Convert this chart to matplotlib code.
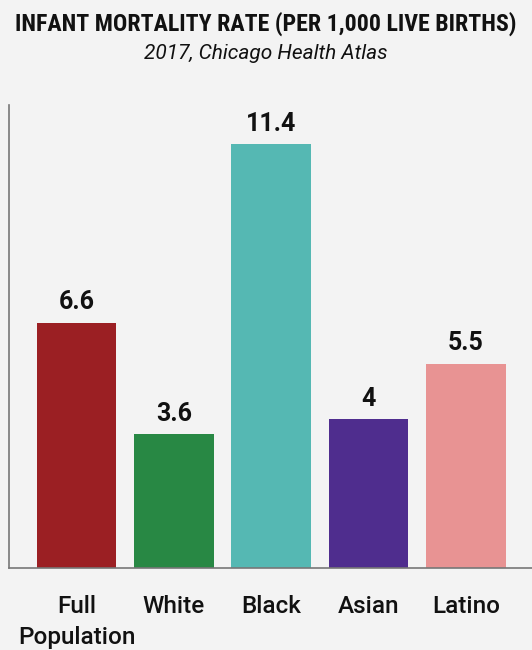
import numpy as np
import matplotlib.pyplot as plt

categories = ['Full\nPopulation', 'White', 'Black', 'Asian', 'Latino']
rates = [6.6, 3.6, 11.4, 4, 5.5]
value_labels = ['6.6', '3.6', '11.4', '4', '5.5']
colors = ['#9b1f23', '#288844', '#55b8b3', '#4f2d8e', '#e89393']

bg = '#f3f3f3'

fig = plt.figure(figsize=(5.32, 6.5), dpi=100, facecolor=bg)
ax = fig.add_axes([0.017, 0.126, 0.983, 0.7123], facecolor=bg)

x = np.arange(len(categories))
ax.bar(x, rates, width=0.82, color=colors)

for xi, v, lab in zip(x, rates, value_labels):
    ax.annotate(lab, (xi, v), xytext=(0, 6), textcoords='offset points',
                ha='center', va='bottom', fontsize=18, fontweight='bold',
                family='Roboto', color='#111111')

ax.set_xlim(-0.694, 4.68)
ax.set_ylim(0, 12.45)
ax.set_xticks(x)
ax.set_xticklabels(categories, fontsize=17.5, family='Roboto', fontweight='medium',
                   color='#111111', linespacing=1.45, ha='center', va='top')
ax.tick_params(axis='x', length=0, pad=19.5)
ax.set_yticks([])

for s in ['top', 'right']:
    ax.spines[s].set_visible(False)
for s in ['left', 'bottom']:
    ax.spines[s].set_color('#777777')
    ax.spines[s].set_linewidth(1.2)

fig.text(0.5, 0.964, 'INFANT MORTALITY RATE (PER 1,000 LIVE BIRTHS)', ha='center', va='center',
         fontsize=17.2, fontweight='heavy',
         family=['DejaVu Sans Condensed', 'Liberation Sans Narrow', 'Roboto Condensed', 'Roboto'],
         color='#111111')
fig.text(0.5, 0.917, '2017, Chicago Health Atlas', ha='center', va='center',
         fontsize=15, style='italic', family='Roboto', color='#111111')

fig.savefig('out.png', dpi=100, facecolor=bg)
